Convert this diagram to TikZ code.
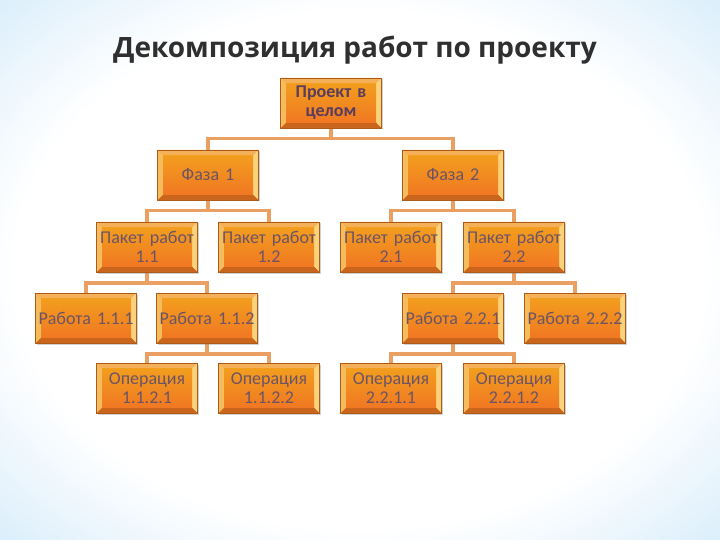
\documentclass[tikz,border=0pt]{standalone}
\usepackage{fontspec}
\setmainfont{Carlito}
\newfontfamily\titlefont{Open Sans}
\usetikzlibrary{calc,shadows}
\definecolor{bgblue}{HTML}{8CC9F2}
\definecolor{boxface}{HTML}{EF8526}
\definecolor{boxedge}{HTML}{B05A18}
\definecolor{bvtop}{HTML}{F5B15A}
\definecolor{bvleft}{HTML}{F4BC5C}
\definecolor{bvright}{HTML}{F9D37C}
\definecolor{bvbottom}{HTML}{C9651C}
\definecolor{boxtext}{HTML}{6B5465}
\definecolor{roottext}{HTML}{5A3C5C}
\definecolor{conncol}{HTML}{E9A062}
\definecolor{titlecol}{HTML}{2F2F2F}
\pgfdeclarelayer{back}
\pgfdeclarelayer{mid}
\pgfsetlayers{back,mid,main}
\pgfdeclareradialshading{bgshade}{\pgfpoint{0bp}{0bp}}{color(0bp)=(white); color(24bp)=(white); color(44bp)=(bgblue!55!white); color(52bp)=(bgblue!85!white); color(72bp)=(bgblue)}
\tikzset{
  bevelbox/.style={rectangle, minimum width=101pt, minimum height=50pt, inner sep=0pt,
    text width=101pt, align=center, fill=boxface, draw=boxedge, line width=0.6pt,
    font=\fontsize{18}{19}\selectfont, text=boxtext,
    drop shadow={shadow xshift=1.2pt, shadow yshift=-1.5pt, opacity=0.35},
    path picture={
      \path (path picture bounding box.south west) coordinate (@sw)
            (path picture bounding box.north east) coordinate (@ne)
            (path picture bounding box.north west) coordinate (@nw)
            (path picture bounding box.south east) coordinate (@se);
      \fill[bvtop] (@nw) -- (@ne) -- ($(@ne)+(-5.5pt,-5.5pt)$) -- ($(@nw)+(5.5pt,-5.5pt)$) -- cycle;
      \fill[bvbottom] (@sw) -- (@se) -- ($(@se)+(-5.5pt,5.5pt)$) -- ($(@sw)+(5.5pt,5.5pt)$) -- cycle;
      \fill[bvleft] (@sw) -- (@nw) -- ($(@nw)+(5.5pt,-5.5pt)$) -- ($(@sw)+(5.5pt,5.5pt)$) -- cycle;
      \fill[bvright] (@se) -- (@ne) -- ($(@ne)+(-5.5pt,-5.5pt)$) -- ($(@se)+(-5.5pt,5.5pt)$) -- cycle;
      \shade[top color=boxface!80!yellow, bottom color=boxface!90!red]
        ($(@sw)+(5.5pt,5.5pt)$) rectangle ($(@ne)+(-5.5pt,-5.5pt)$);
    }},
  rootbox/.style={bevelbox, text=roottext, font=\fontsize{18}{19}\selectfont\bfseries},
  conn/.style={draw=conncol, line width=3.4pt}
}
\begin{document}
\begin{tikzpicture}[x=1pt,y=-1pt]
\begin{pgfonlayer}{back}
\path[shading=bgshade] (0,0) rectangle (720,540);
\fill[white, opacity=0.3] (0,358) rectangle (720,392);
\end{pgfonlayer}
\useasboundingbox (0,0) rectangle (720,540);
\node[anchor=base, text=titlecol, font=\titlefont\bfseries\fontsize{28}{32}\selectfont] (title) at (355,58) {Декомпозиция работ по проекту};
\node[rootbox] (root) at (331,103) {Проект в\\целом};
\node[bevelbox] (f1) at (208,175) {Фаза 1};
\node[bevelbox] (f2) at (453,175) {Фаза 2};
\node[bevelbox] (p11) at (147,247) {Пакет работ\\1.1};
\node[bevelbox] (p12) at (269,247) {Пакет работ\\1.2};
\node[bevelbox] (p21) at (391,247) {Пакет работ\\2.1};
\node[bevelbox] (p22) at (514,247) {Пакет работ\\2.2};
\node[bevelbox] (r111) at (86,318) {Работа 1.1.1};
\node[bevelbox] (r112) at (207,318) {Работа 1.1.2};
\node[bevelbox] (r221) at (453,318) {Работа 2.2.1};
\node[bevelbox] (r222) at (575,318) {Работа 2.2.2};
\node[bevelbox] (o1121) at (147,388) {Операция\\1.1.2.1};
\node[bevelbox] (o1122) at (269,388) {Операция\\1.1.2.2};
\node[bevelbox] (o2211) at (391,388) {Операция\\2.2.1.1};
\node[bevelbox] (o2212) at (514,388) {Операция\\2.2.1.2};
\begin{pgfonlayer}{mid}
\foreach \p/\c in {root/f1,root/f2}
  \draw[conn] (\p.south) -- ++(0,10) -| (\c.north);
\foreach \p/\c in {f1/p11,f1/p12,f2/p21,f2/p22,p11/r111,p11/r112,p22/r221,p22/r222,r112/o1121,r112/o1122,r221/o2211,r221/o2212}
  \draw[conn] (\p.south) -- ++(0,10.5) -| (\c.north);
\end{pgfonlayer}
\end{tikzpicture}
\end{document}
